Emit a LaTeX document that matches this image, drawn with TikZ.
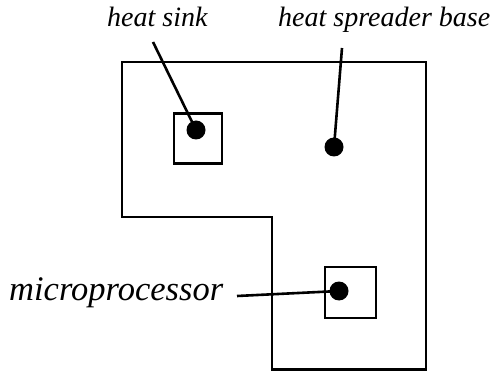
\documentclass[tikz,border=0pt]{standalone}
\usepackage{fontspec}
\setmainfont{Liberation Serif}
\begin{document}
\begin{tikzpicture}[x=1pt,y=-1pt,
  wall/.style={line width=2.6pt, line join=miter},
  chip/.style={draw, line width=2.4pt, minimum width=48pt, minimum height=50pt, inner sep=0pt},
  dot/.style={circle, fill=black, minimum size=19pt, inner sep=0pt},
  lbl/.style={anchor=base west, inner sep=0pt, font=\itshape\fontsize{28}{30}\selectfont},
  lead/.style={line width=2.6pt}]
\useasboundingbox (0,0) rectangle (495,371);
% heat spreader outline
\draw[wall] (122,62) -- (426,62) -- (426,369.5) -- (272,369.5) -- (272,217) -- (122,217) -- cycle;
% heat sink
\node[chip] (hsbox) at (198,138.5) {};
\node[dot] (hsdot) at (196,130) {};
% microprocessor
\node[chip, minimum width=51pt, minimum height=51pt] (mpbox) at (350.5,292.5) {};
\node[dot] (mpdot) at (339,291) {};
% spreader dot
\node[dot] (spdot) at (334,147) {};
% labels
\node[lbl] (hslbl) at (107,27) {heat sink};
\node[lbl] (splbl) at (278,27) {heat spreader base};
\node[lbl, font=\itshape\fontsize{34.5}{36}\selectfont] (mplbl) at (9,300) {microprocessor};
% leader start points
\coordinate (hsstart) at (153,42);
\coordinate (spstart) at (342,48);
\coordinate (mpstart) at (237,296);
\draw[lead] (hsstart) -- (hsdot.center);
\draw[lead] (spstart) -- (spdot.center);
\draw[lead] (mpstart) -- (mpdot.center);
\end{tikzpicture}
\end{document}
